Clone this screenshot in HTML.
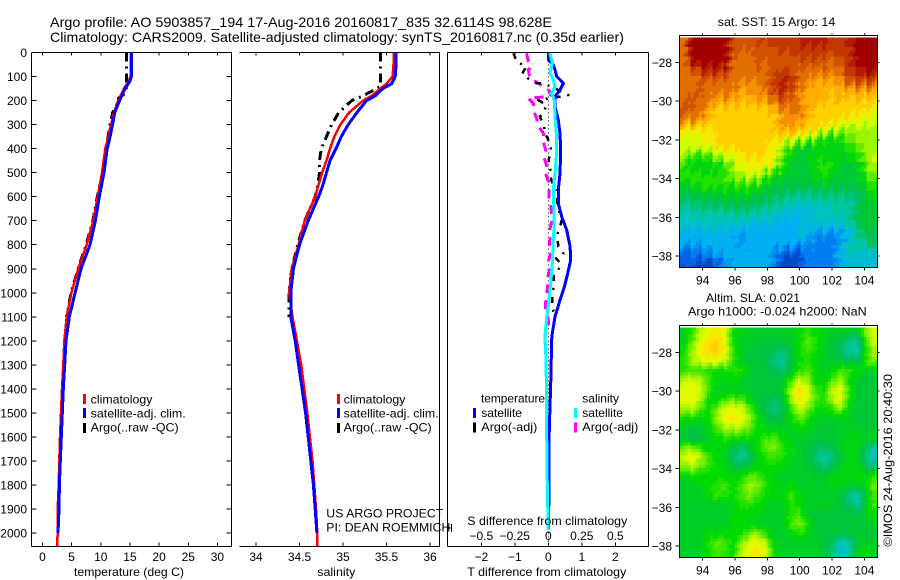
<!DOCTYPE html>
<html lang="en">
<head>
<meta charset="utf-8">
<title>Argo profile 5903857_194</title>
<style>
html,body{margin:0;padding:0;background:#fff;}
svg{display:block;}
text{font-family:"Liberation Sans",sans-serif;fill:#000;font-size:12px;}
.ttl{font-size:14px;}
</style>
</head>
<body>
<svg id="chart" xmlns="http://www.w3.org/2000/svg" width="900" height="580" viewBox="0 0 900 580">
  <rect x="0" y="0" width="900" height="580" fill="#fff"/>
  <text class="ttl" x="50" y="27" textLength="502" lengthAdjust="spacingAndGlyphs">Argo profile: AO 5903857_194 17-Aug-2016 20160817_835 32.6114S 98.628E</text>
  <text class="ttl" x="50" y="42" textLength="574" lengthAdjust="spacingAndGlyphs">Climatology: CARS2009. Satellite-adjusted climatology: synTS_20160817.nc (0.35d earlier)</text>

  <g id="maps"></g>
  <g id="plots"></g>

  <text x="74" y="576" textLength="110" lengthAdjust="spacingAndGlyphs">temperature (deg C)</text>
  <text x="317.3" y="576" textLength="38" lengthAdjust="spacingAndGlyphs">salinity</text>
  <text x="467.3" y="576" textLength="159" lengthAdjust="spacingAndGlyphs">T difference from climatology</text>
  <text x="467.3" y="525" textLength="160" lengthAdjust="spacingAndGlyphs">S difference from climatology</text>

  <rect x="83" y="394" width="3" height="10" fill="#f00"/>
  <rect x="83" y="408" width="3" height="10" fill="#00f"/>
  <rect x="83" y="423" width="3" height="10" fill="#000"/>
  <text x="90.7" y="403.5" textLength="61.7" lengthAdjust="spacingAndGlyphs">climatology</text>
  <text x="90.7" y="417.5" textLength="95" lengthAdjust="spacingAndGlyphs">satellite-adj. clim.</text>
  <text x="90.7" y="431.5" textLength="88" lengthAdjust="spacingAndGlyphs">Argo(..raw -QC)</text>

  <rect x="337" y="394" width="3" height="10" fill="#f00"/>
  <rect x="337" y="408" width="3" height="10" fill="#00f"/>
  <rect x="337" y="423" width="3" height="10" fill="#000"/>
  <text x="343.7" y="403.5" textLength="61.7" lengthAdjust="spacingAndGlyphs">climatology</text>
  <text x="343.7" y="417.5" textLength="95" lengthAdjust="spacingAndGlyphs">satellite-adj. clim.</text>
  <text x="343.7" y="431.5" textLength="88" lengthAdjust="spacingAndGlyphs">Argo(..raw -QC)</text>

  <text x="326.3" y="517.5" textLength="117" lengthAdjust="spacingAndGlyphs">US ARGO PROJECT</text>
  <text x="326.3" y="531.5" textLength="124" lengthAdjust="spacingAndGlyphs">PI: DEAN ROEMMICH</text>

  <text x="481" y="402.7" textLength="64" lengthAdjust="spacingAndGlyphs">temperature</text>
  <rect x="473" y="408" width="3" height="10" fill="#00f"/>
  <text x="481.3" y="416.8">satellite</text>
  <rect x="473" y="422.5" width="3" height="10" fill="#000"/>
  <text x="481.3" y="431" textLength="56" lengthAdjust="spacingAndGlyphs">Argo(-adj)</text>
  <text x="582.3" y="402.7">salinity</text>
  <rect x="574" y="408" width="3" height="10" fill="#0ff"/>
  <text x="582.3" y="416.8">satellite</text>
  <rect x="574" y="422.5" width="3" height="10" fill="#f0f"/>
  <text x="582.3" y="431" textLength="56" lengthAdjust="spacingAndGlyphs">Argo(-adj)</text>

  <text x="717.7" y="26" textLength="117.6" lengthAdjust="spacingAndGlyphs">sat. SST: 15 Argo: 14</text>
  <text x="706" y="302" textLength="94" lengthAdjust="spacingAndGlyphs">Altim. SLA: 0.021</text>
  <text x="688" y="315.5" textLength="178.7" lengthAdjust="spacingAndGlyphs">Argo h1000: -0.024 h2000: NaN</text>
  <text transform="translate(892 546.7) rotate(-90)" textLength="172.7" lengthAdjust="spacingAndGlyphs">©IMOS 24-Aug-2016 20:40:30</text>
</svg>
<script>
// ---- Profile data (depth in m) ----
const tempDepths = [0,60,100,120,150,200,250,300,350,400,500,600,700,800,900,1000,1100,1200,1300,1400,1500,1600,1700,1800,1900,2000];
const tempSatellite = [15.3,15.3,15.25,15.0,14.15,13.2,12.4,12.0,11.6,11.1,10.55,9.75,9.07,8.15,6.6,5.6,4.6,4.03,3.8,3.57,3.4,3.23,3.06,2.9,2.83,2.66];
const tempClimDepths = [0,60,100,120,150,200,250,300,350,400,500,600,700,800,900,1000,1100,1200,1300,1400,1500,1600,1700,1800,1900,2000,2055];
const tempClim = [15.1,15.1,15.1,14.8,13.98,13.0,12.26,11.75,11.3,10.77,10.2,9.46,8.72,7.58,6.14,4.95,4.15,3.74,3.57,3.35,3.17,3.0,2.88,2.78,2.6,2.6,2.49];
const tempArgoDepths = [0,140,170,190,200,250,300,400,500,600,700,800,900,1000,1100];
const tempArgo = [14.44,14.44,14.2,13.0,13.1,12.04,11.6,10.9,10.3,9.4,8.65,7.5,6.1,4.9,4.1];

const salDepths = [0,50,100,130,150,180,200,250,300,350,400,450,500,550,600,700,800,900,1000,1100,1200,1300,1400,1500,1600,1700,1800,1900,2000];
const salSatellite = [35.61,35.61,35.6,35.56,35.46,35.37,35.27,35.16,35.06,34.98,34.92,34.85,34.81,34.77,34.72,34.6,34.5,34.43,34.4,34.4,34.45,34.49,34.53,34.57,34.6,34.63,34.66,34.68,34.70];
const salClimDepths = [0,50,100,130,150,180,200,250,300,350,400,450,500,550,600,700,800,900,1000,1100,1200,1300,1400,1500,1600,1700,1800,1900,2000,2055];
const salClim = [35.58,35.58,35.57,35.5,35.43,35.33,35.23,35.07,34.97,34.9,34.85,34.81,34.76,34.72,34.68,34.56,34.49,34.41,34.38,34.42,34.47,34.52,34.555,34.59,34.62,34.65,34.67,34.69,34.705,34.705];
const salArgoDepths = [0,140,150,180,200,250,300,350,400,450,500,550,600,700,800,900,1000,1100];
const salArgo = [35.43,35.43,35.39,35.23,35.1,34.95,34.87,34.81,34.75,34.73,34.73,34.71,34.68,34.56,34.48,34.41,34.38,34.38];

const dTSatDepths = [3,31,52,73,100,128,156,184,225,281,336,406,503,572,628,683,739,808,864,919,975,1030,1100,1169,1197,1335,1474,1613,1834,1987];
const dTSat = [0,0,.15,.2,.25,.45,.35,.2,.2,.3,.35,.37,.35,.3,.3,.4,.55,.65,.67,.58,.48,.35,.2,.12,.1,.08,.05,.02,.02,0];
const dSSatDepths = [3,44,86,114,142,170,198,267,336,433,503,572,711,780,878,947,1030,1100,1183,1279,1474,1599,1834,1987];
const dSSat = [.012,.03,.012,.037,.05,.025,.045,.05,.06,.06,.05,.037,.045,.037,.03,.02,.005,-.012,-.025,-.017,-.012,-.012,-.007,0];
const dTArgoDepths = [3,38,59,87,108,128,128.5,149,177,184,198,218,253,267,309,329,364,399,433,461,503,530,572,593,641,697,725,753,780,808,836,857,877,905,926,975,1016,1044,1079,1106,1141];
const dTArgo = [-1.04,-.95,-.65,-.78,-.6,-.35,-.15,.2,.6,.35,-.3,-.05,-.15,-.25,-.12,-.12,0,.08,.03,0,.1,.08,.25,.25,.28,.4,.35,.28,.28,.3,.45,.23,.38,.3,.16,.15,.12,.12,.15,.2,.15];
const dSArgoDepths = [3,38,59,73,108,128,149,170,184,187,191,212,239,274,306,336,371,406,436,472,503,537,572,607,635,676,704,736,773,808,836,870,905,940,972,1003,1041,1065,1113,1134];
const dSArgo = [-.162,-.149,-.129,-.149,-.137,-.075,-.012,.025,.012,-.075,-.149,-.112,-.112,-.087,-.075,-.037,-.037,-.02,-.032,-.012,-.02,0,.007,.007,.017,.025,.025,.012,.012,.007,.017,0,.007,-.005,-.005,-.012,-.02,-.02,0,0];

// ---- Tick labels ----
const depthTicks = [0,100,200,300,400,500,600,700,800,900,1000,1100,1200,1300,1400,1500,1600,1700,1800,1900,2000];
const tempTicks = [0,5,10,15,20,25,30];
const salTicks = [34,34.5,35,35.5,36];
const tDiffTicks = [-2,-1,0,1,2];
const sDiffTicks = [-0.5,-0.25,0,0.25,0.5];
const lonTicks = [94,96,98,100,102,104];
const latTicks = [-28,-30,-32,-34,-36,-38];

// ---- Map grids: 24 columns x 24 rows on colour levels 0-100 ----
const sstLevels = [
[85,100,100,100,100,100,90,88,88,90,90,92,92,90,95,95,95,95,92,92,95,100,100,100],
[85,100,100,100,100,100,88,85,85,88,88,90,90,90,92,92,92,92,90,92,92,100,100,100],
[85,98,100,100,100,100,85,85,85,88,85,88,88,88,88,90,88,88,85,90,92,100,100,100],
[85,85,92,95,95,92,85,82,85,85,85,88,92,90,85,85,82,85,82,85,92,95,98,98],
[85,85,85,85,85,85,85,82,82,82,85,92,95,95,85,82,78,78,78,82,88,92,90,90],
[85,85,88,85,82,85,82,78,78,80,85,92,95,88,82,78,75,76,75,75,76,78,78,78],
[85,88,85,85,78,80,78,75,75,78,78,85,88,85,80,75,75,75,72,75,72,75,72,72],
[88,85,85,78,72,72,72,72,72,72,75,75,82,82,85,78,72,72,72,72,72,72,70,68],
[82,85,80,76,72,72,72,70,70,72,72,72,78,80,80,76,72,72,72,70,68,66,66,65],
[68,68,68,70,70,72,70,70,70,70,72,75,78,78,75,72,72,68,66,62,60,62,60,62],
[65,65,66,68,70,70,70,70,70,70,70,70,70,68,66,62,56,50,48,50,55,58,60,58],
[64,64,65,66,70,70,70,70,70,70,70,68,60,50,46,45,46,46,46,48,50,55,60,60],
[60,52,50,52,58,62,66,70,70,70,70,68,55,46,45,46,48,50,48,46,46,50,58,62],
[50,48,48,46,47,50,58,65,68,68,66,60,50,46,45,46,50,52,50,46,44,46,55,62],
[50,54,52,50,52,54,60,62,64,62,52,48,46,45,44,45,46,50,46,45,44,44,52,58],
[45,48,50,52,50,52,50,52,50,48,47,44,42,42,42,42,44,44,44,44,42,42,46,52],
[40,42,44,44,44,46,45,47,46,44,42,40,38,36,34,34,36,36,36,36,36,38,44,48],
[34,36,38,38,40,40,42,40,40,38,36,34,32,26,24,25,26,28,30,30,30,40,44,44],
[28,30,30,30,32,30,32,34,32,30,28,26,24,22,22,24,26,28,30,30,32,42,44,44],
[28,26,26,28,26,26,24,24,22,22,22,22,20,20,22,22,24,26,24,24,32,40,44,44],
[18,20,20,22,22,20,20,18,20,20,20,20,18,18,22,22,16,14,14,16,18,32,42,40],
[18,18,18,20,22,20,18,16,18,20,20,22,20,20,18,16,12,12,12,16,30,32,34,42],
[8,10,12,14,18,20,22,20,22,22,22,14,8,6,4,12,14,14,14,22,30,26,24,28],
[6,6,4,4,6,16,18,18,20,20,20,14,2,2,6,12,12,12,12,18,22,22,22,22]
];
const slaLevels = [
[46,52,62,66,68,65,50,48,46,46,46,46,46,46,50,52,50,48,46,46,46,44,58,64],
[48,56,66,70,72,66,50,46,46,44,44,44,44,46,50,56,52,46,44,42,34,32,52,64],
[50,60,68,71,72,67,54,46,44,44,42,40,36,44,50,54,50,46,44,40,32,30,50,60],
[52,60,64,66,66,62,52,46,44,44,42,36,32,42,50,52,48,46,44,44,42,42,52,58],
[52,54,52,52,50,50,52,52,46,44,44,40,38,44,52,54,50,46,50,54,54,50,46,46],
[62,64,62,54,48,48,50,46,44,44,44,44,44,54,62,60,48,48,54,60,50,46,44,44],
[66,67,64,54,46,46,46,46,44,44,44,44,46,62,71,64,54,50,62,66,54,44,44,44],
[66,67,62,50,48,54,56,54,48,44,42,38,42,60,68,64,54,52,62,66,52,44,44,44],
[60,62,56,50,56,66,66,64,56,46,40,36,40,52,64,58,50,50,52,60,48,44,44,44],
[50,50,48,50,60,67,68,67,60,50,44,42,44,50,56,52,46,46,46,46,46,44,44,44],
[46,44,44,48,54,60,62,60,56,50,48,46,46,46,50,48,46,44,44,46,46,46,44,44],
[44,40,42,46,50,52,52,50,50,50,54,54,50,46,46,46,44,44,44,46,48,48,46,48],
[56,58,52,48,48,48,42,38,44,50,56,58,52,48,46,44,40,40,42,46,48,48,42,34],
[64,67,62,54,50,46,40,32,40,48,52,54,52,48,46,44,38,30,36,44,48,48,38,26],
[58,62,56,52,50,48,44,42,46,48,50,50,48,46,46,44,42,36,42,46,48,48,42,36],
[48,50,50,50,50,50,48,50,56,54,50,48,46,46,46,46,44,46,48,48,48,50,48,52],
[46,46,48,50,52,54,50,54,60,58,52,48,46,50,46,46,46,46,48,48,46,46,48,56],
[46,46,46,50,54,52,50,54,58,54,50,48,48,54,48,46,46,46,46,44,36,30,42,54],
[46,46,46,46,46,46,48,52,52,50,48,46,46,52,50,46,46,46,46,44,40,32,44,54],
[46,46,46,46,46,46,48,50,48,48,46,46,46,52,54,46,44,44,44,44,44,44,46,50],
[46,46,46,46,46,46,50,50,48,46,46,46,46,54,58,52,44,44,44,44,44,44,44,46],
[46,46,46,50,48,50,50,50,56,60,50,46,46,48,52,48,44,44,44,44,44,46,44,44],
[46,46,46,52,56,54,50,58,66,67,62,48,46,46,46,46,46,44,40,26,30,44,46,46],
[46,46,46,50,54,52,50,62,67,68,64,50,46,46,46,46,46,44,38,22,32,46,50,46]
];

const SVGNS = 'http://www.w3.org/2000/svg';
const plots = document.getElementById('plots');
const maps = document.getElementById('maps');

function mk(parent, tag, attrs, txt) {
  const n = document.createElementNS(SVGNS, tag);
  for (const k in attrs) n.setAttribute(k, attrs[k]);
  if (txt !== undefined) n.textContent = txt;
  parent.appendChild(n);
  return n;
}
function rule(parent, x1, y1, x2, y2) {
  return mk(parent, 'line', {x1:x1, y1:y1, x2:x2, y2:y2, stroke:'#000', 'stroke-width':1, 'shape-rendering':'crispEdges'});
}
function fmt(v) { return String(v).replace('-', '\u2212'); }

// ---- Axis functions ----
const yDepth = d => 52.5 + d * 0.2403;
const xTemp = t => 42.5 + t * 5.83;
const xSal = s => 256 + (s - 34) * 87;
const xDT = t => 548.3 + t * 33.5;
const xDS = s => 548.3 + s * 134;
const xLon = lon => 702.7 + (lon - 94) * 16.17;
const yLat = (lat, top) => top + 27 + (-28 - lat) * 19.37;

const PT = 52.5, PB = 546.5;

function series(values, depths, xf, color, width, dash, name) {
  const pts = values.map((v, i) => xf(v).toFixed(1) + ',' + yDepth(depths[i]).toFixed(1)).join(' ');
  const attrs = {points: pts, fill: 'none', stroke: color, 'stroke-width': width, 'shape-rendering': 'crispEdges', 'stroke-linejoin': 'round'};
  if (dash) attrs['stroke-dasharray'] = dash;
  const el = mk(plots, 'polyline', attrs);
  
  
  return el;
}

// ---- Temperature panel frame ----
[[31.5,PT,231.5,PT],[31.5,PT,31.5,PB],[231.5,PT,231.5,PB],[31.5,PB,231.5,PB]].forEach(s => {
  const el = rule(plots, s[0], s[1], s[2], s[3]);
  
  
});
depthTicks.forEach(d => {
  const y = yDepth(d);
  const left = rule(plots, 31.5, y, 36.5, y);
  
  
  const right = rule(plots, 226.5, y, 231.5, y);
  
  
  const lab = mk(plots, 'text', {x: 27, y: y + 4.5, 'text-anchor': 'end'}, String(d));
  
  
});
tempTicks.forEach(t => {
  const x = xTemp(t);
  const top = rule(plots, x, PT, x, PT + 3);
  
  
  const bot = rule(plots, x, PB - 4, x, PB);
  
  
  const lab = mk(plots, 'text', {x: x, y: 561, 'text-anchor': 'middle'}, String(t));
  
  
});
series(tempArgo, tempArgoDepths, xTemp, '#000', 3, '9 5 2 5', 'temperature-argo-line');
series(tempClim, tempClimDepths, xTemp, '#f00', 2.5, null, 'temperature-climatology-line');
series(tempSatellite, tempDepths, xTemp, '#00f', 3, null, 'temperature-satellite-line');

// ---- Salinity panel frame ----
[[239.5,PT,439.5,PT],[439.5,PT,439.5,PB],[239.5,PB,439.5,PB]].forEach(s => {
  const el = rule(plots, s[0], s[1], s[2], s[3]);
  
  
});
salTicks.forEach(s => {
  const x = xSal(s);
  const top = rule(plots, x, PT, x, PT + 3);
  
  
  const bot = rule(plots, x, PB - 4, x, PB);
  
  
  const lab = mk(plots, 'text', {x: x, y: 561, 'text-anchor': 'middle'}, String(s));
  
  
});
series(salArgo, salArgoDepths, xSal, '#000', 3, '9 5 2 5', 'salinity-argo-line');
series(salClim, salClimDepths, xSal, '#f00', 2.5, null, 'salinity-climatology-line');
series(salSatellite, salDepths, xSal, '#00f', 3, null, 'salinity-satellite-line');

// ---- Difference panel frame ----
[[447.5,PT,648.5,PT],[447.5,PT,447.5,PB],[648.5,PT,648.5,PB],[447.5,PB,648.5,PB],[447.5,528,451.5,528],[451.5,524,451.5,532]].forEach(s => {
  const el = rule(plots, s[0], s[1], s[2], s[3]);
  
  
});
tDiffTicks.forEach(t => {
  const x = xDT(t);
  const top = rule(plots, x, PT, x, PT + 3);
  
  
  const bot = rule(plots, x, PB - 4, x, PB);
  
  
  const lab = mk(plots, 'text', {x: x, y: 561, 'text-anchor': 'middle'}, fmt(t));
  
  
});
sDiffTicks.forEach(s => {
  const lab = mk(plots, 'text', {x: xDS(s), y: 540, 'text-anchor': 'middle'}, fmt(s));
  
  
});
const zeroLine = mk(plots, 'line', {x1: xDT(0), y1: PT, x2: xDT(0), y2: PB, stroke: '#000', 'stroke-width': 1, 'stroke-dasharray': '1 3', 'shape-rendering': 'crispEdges'});


series(dSArgo, dSArgoDepths, xDS, '#f0f', 3, '9 7', 's-difference-argo-line');
series(dTArgo, dTArgoDepths, xDT, '#000', 2.5, '6 7 2 7', 't-difference-argo-line');
series(dTSat, dTSatDepths, xDT, '#00f', 3, null, 't-difference-satellite-line');
series(dSSat, dSSatDepths, xDS, '#0ff', 3, null, 's-difference-satellite-line');

// ---- Map colour scale ----
const colourStops = [[0,[0,48,176]],[10,[0,112,240]],[20,[0,176,240]],[30,[0,200,176]],[42,[0,192,72]],[50,[0,220,0]],[58,[128,240,0]],[65,[224,255,0]],[70,[255,224,0]],[78,[255,160,0]],[86,[216,96,0]],[93,[192,48,0]],[100,[160,0,0]]];
function levelColour(v) {
  for (let i = 1; i < colourStops.length; i++) {
    if (v <= colourStops[i][0]) {
      const a = colourStops[i - 1], b = colourStops[i];
      const f = (v - a[0]) / (b[0] - a[0]);
      const c = a[1].map((u, k) => Math.round(u + (b[1][k] - u) * f));
      return 'rgb(' + c.join(',') + ')';
    }
  }
  return 'rgb(160,0,0)';
}

// Bilinear look-up of a grid value at fractional cell coordinates
function sampleGrid(levels, u, v) {
  const rows = levels.length, cols = levels[0].length;
  const uu = Math.min(Math.max(u, 0), cols - 1), vv = Math.min(Math.max(v, 0), rows - 1);
  const c0 = Math.floor(uu), r0 = Math.floor(vv);
  const c1 = Math.min(c0 + 1, cols - 1), r1 = Math.min(r0 + 1, rows - 1);
  const fu = uu - c0, fv = vv - r0;
  return (levels[r0][c0] * (1 - fu) + levels[r0][c1] * fu) * (1 - fv) +
         (levels[r1][c0] * (1 - fu) + levels[r1][c1] * fu) * fv;
}

// Each grid cell is painted as SUB x SUB display pixels; `step` bands the colours, `tooth` adds the scan-line jag.
const SUB = 3;
function drawMap(levels, top, mapName, step, tooth) {
  const L = 679.5, R = 877.5, T = top, B = top + 232;
  const rows = levels.length, cols = levels[0].length;
  const cw = (R - L) / (cols * SUB), ch = (B - T - 2) / (rows * SUB);
  for (let sr = 0; sr < rows * SUB; sr++) {
    for (let sc = 0; sc < cols * SUB; sc++) {
      const u = (sc + .5) / SUB - .5 + tooth * ((sr % 3) - 1);
      const v = (sr + .5) / SUB - .5 + tooth * ((sc % 4) - 1.5);
      const level = Math.round(sampleGrid(levels, u, v) / step) * step;
      const cell = mk(maps, 'rect', {x: (L + sc * cw).toFixed(2), y: (T + 2 + sr * ch).toFixed(2), width: (cw + .4).toFixed(2), height: (ch + .4).toFixed(2), fill: levelColour(level), 'shape-rendering': 'crispEdges'});
      
      
    }
  }
  const frame = mk(maps, 'rect', {x: L, y: T, width: R - L, height: B - T, fill: 'none', stroke: '#000', 'stroke-width': 1, 'shape-rendering': 'crispEdges'});
  
  
  lonTicks.forEach(lon => {
    const x = xLon(lon);
    const t1 = rule(maps, x, T - 2, x, T);
    
    
    const t2 = rule(maps, x, B, x, B + 3);
    
    
    const lab = mk(maps, 'text', {x: x, y: B + 17, 'text-anchor': 'middle'}, String(lon));
    
    
  });
  latTicks.forEach(lat => {
    const y = yLat(lat, T);
    const t1 = rule(maps, L - 4, y, L, y);
    
    
    const t2 = rule(maps, R, y, R + 2, y);
    
    
    const lab = mk(maps, 'text', {x: 672, y: y + 4.5, 'text-anchor': 'end'}, fmt(lat));
    
    
  });
}
drawMap(sstLevels, 35.5, 'sst-map', 4, 0.3);
drawMap(slaLevels, 325.5, 'sla-map', 2, 0.1);
</script>
</body>
</html>
